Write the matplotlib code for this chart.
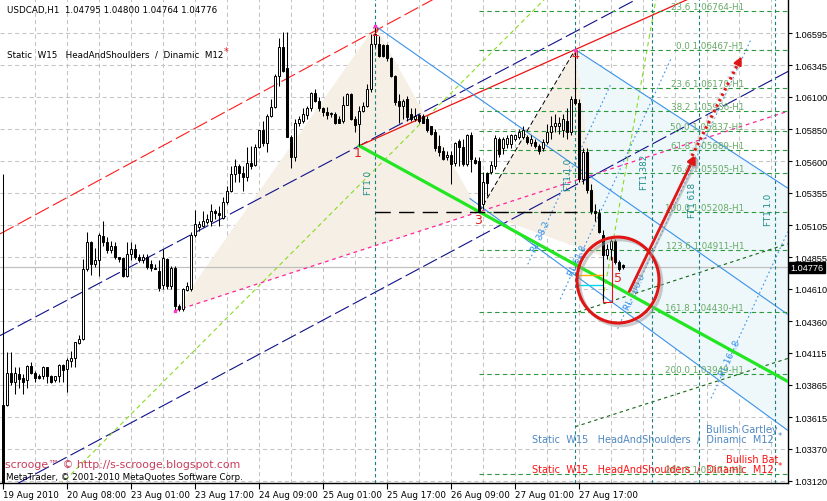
import matplotlib
matplotlib.use("Agg")
import matplotlib.pyplot as plt
import matplotlib.patheffects as pe
from matplotlib.patches import Polygon, Ellipse
import numpy as np

# USDCAD H1 bars, first bar 19 Aug 2010 16:00
opens = [1.0371, 1.0371, 1.0396, 1.0389, 1.0395, 1.0392, 1.0390, 1.0401, 1.0396, 1.0393,
         1.0393, 1.0400, 1.0393, 1.0390, 1.0393, 1.0402, 1.0399, 1.0405, 1.0407, 1.0419,
         1.0422, 1.0476, 1.0497, 1.0480, 1.0483, 1.0502, 1.0497, 1.0491, 1.0494, 1.0486,
         1.0485, 1.0471, 1.0488, 1.0492, 1.0486, 1.0483, 1.0486, 1.0480, 1.0477, 1.0475,
         1.0464, 1.0484, 1.0463, 1.0477, 1.0448, 1.0445, 1.0460, 1.0461, 1.0503, 1.0509,
         1.0510, 1.0513, 1.0514, 1.0521, 1.0520, 1.0516, 1.0528, 1.0537, 1.0550, 1.0556,
         1.0551, 1.0548, 1.0559, 1.0557, 1.0571, 1.0584, 1.0574, 1.0595, 1.0602, 1.0626,
         1.0649, 1.0632, 1.0579, 1.0563, 1.0590, 1.0591, 1.0596, 1.0601, 1.0613, 1.0607,
         1.0601, 1.0598, 1.0597, 1.0597, 1.0593, 1.0591, 1.0604, 1.0612, 1.0593, 1.0589,
         1.0599, 1.0603, 1.0616, 1.0651, 1.0651, 1.0650, 1.0650, 1.0640, 1.0626, 1.0607,
         1.0603, 1.0608, 1.0597, 1.0593, 1.0596, 1.0595, 1.0593, 1.0587, 1.0583, 1.0572,
         1.0568, 1.0563, 1.0565, 1.0559, 1.0576, 1.0571, 1.0558, 1.0580, 1.0561, 1.0560,
         1.0527, 1.0551, 1.0552, 1.0556, 1.0577, 1.0570, 1.0573, 1.0573, 1.0577, 1.0579,
         1.0579, 1.0579, 1.0574, 1.0575, 1.0572, 1.0570, 1.0575, 1.0583, 1.0587, 1.0587,
         1.0584, 1.0591, 1.0583, 1.0608, 1.0605, 1.0546, 1.0567, 1.0538, 1.0521, 1.0520,
         1.0503, 1.0487, 1.0492, 1.0498, 1.0482, 1.04795]
highs = [1.0550, 1.0412, 1.0412, 1.0400, 1.0400, 1.0395, 1.0402, 1.0404, 1.0397, 1.0395,
         1.0401, 1.0400, 1.0394, 1.0393, 1.0403, 1.0403, 1.0407, 1.0413, 1.0420, 1.0425,
         1.0484, 1.0505, 1.0498, 1.0493, 1.0504, 1.0514, 1.0501, 1.0498, 1.0497, 1.0486,
         1.0486, 1.0497, 1.0497, 1.0496, 1.0488, 1.0488, 1.0488, 1.0483, 1.0480, 1.0483,
         1.0492, 1.0485, 1.0479, 1.0479, 1.0449, 1.0462, 1.0466, 1.0505, 1.0522, 1.0514,
         1.0521, 1.0519, 1.0527, 1.0523, 1.0525, 1.0532, 1.0541, 1.0556, 1.0562, 1.0558,
         1.0556, 1.0571, 1.0572, 1.0573, 1.0584, 1.0591, 1.0597, 1.0608, 1.0628, 1.0656,
         1.0660, 1.0660, 1.0580, 1.0593, 1.0595, 1.0601, 1.0603, 1.0614, 1.0616, 1.0610,
         1.0602, 1.0602, 1.0598, 1.0598, 1.0595, 1.0611, 1.0613, 1.0613, 1.0595, 1.0603,
         1.0606, 1.0620, 1.0659, 1.0665, 1.0657, 1.0651, 1.0651, 1.0641, 1.0627, 1.0612,
         1.0608, 1.0611, 1.0601, 1.0601, 1.0597, 1.0597, 1.0595, 1.0587, 1.0585, 1.0580,
         1.0571, 1.0568, 1.0568, 1.0575, 1.0577, 1.0577, 1.0581, 1.0583, 1.0563, 1.0563,
         1.0552, 1.0552, 1.0560, 1.0580, 1.0579, 1.0579, 1.0580, 1.0581, 1.0581, 1.0585,
         1.0587, 1.0580, 1.0580, 1.0577, 1.0573, 1.0577, 1.0589, 1.0595, 1.0597, 1.0594,
         1.0597, 1.0601, 1.0611, 1.06467, 1.0608, 1.0570, 1.0570, 1.0542, 1.0527, 1.0523,
         1.0507, 1.0496, 1.0500, 1.0500, 1.0483, 1.04800]
lows = [1.0300, 1.0370, 1.0386, 1.0379, 1.0384, 1.0379, 1.0384, 1.0395, 1.0389, 1.0391,
        1.0391, 1.0388, 1.0388, 1.0389, 1.0389, 1.0389, 1.0381, 1.0400, 1.0400, 1.0418,
        1.0421, 1.0475, 1.0472, 1.0478, 1.0471, 1.0494, 1.0489, 1.0489, 1.0484, 1.0482,
        1.0470, 1.0470, 1.0483, 1.0484, 1.0482, 1.0481, 1.0476, 1.0475, 1.0476, 1.0459,
        1.0461, 1.0461, 1.0461, 1.0444, 1.0444, 1.0444, 1.0459, 1.0459, 1.0501, 1.0506,
        1.0509, 1.0511, 1.0510, 1.0515, 1.0510, 1.0515, 1.0527, 1.0536, 1.0544, 1.0544,
        1.0537, 1.0545, 1.0554, 1.0556, 1.0570, 1.0572, 1.0567, 1.0594, 1.0601, 1.0618,
        1.0629, 1.0579, 1.0555, 1.0560, 1.0587, 1.0590, 1.0593, 1.0599, 1.0606, 1.0599,
        1.0595, 1.0593, 1.0594, 1.0589, 1.0590, 1.0590, 1.0604, 1.0592, 1.0583, 1.0572,
        1.0598, 1.0602, 1.0614, 1.0649, 1.0641, 1.0641, 1.0638, 1.0625, 1.0604, 1.0590,
        1.0593, 1.0591, 1.0591, 1.0591, 1.0590, 1.0590, 1.0583, 1.0580, 1.0568, 1.0564,
        1.0561, 1.0561, 1.0542, 1.0556, 1.0556, 1.0556, 1.0556, 1.0552, 1.0558, 1.05208,
        1.0523, 1.0533, 1.0550, 1.0554, 1.0563, 1.0566, 1.0570, 1.0570, 1.0576, 1.0577,
        1.0577, 1.0573, 1.0572, 1.0570, 1.0566, 1.0568, 1.0573, 1.0577, 1.0583, 1.0581,
        1.0579, 1.0577, 1.0580, 1.0604, 1.0544, 1.0542, 1.0535, 1.0519, 1.0514, 1.0504,
        1.0452, 1.0484, 1.0483, 1.0480, 1.0475, 1.04764]
closes = [1.0302, 1.0396, 1.0389, 1.0396, 1.0391, 1.0389, 1.0401, 1.0396, 1.0392, 1.0392,
          1.0400, 1.0393, 1.0389, 1.0393, 1.0402, 1.0398, 1.0406, 1.0407, 1.0420, 1.0422,
          1.0476, 1.0497, 1.0480, 1.0483, 1.0503, 1.0497, 1.0491, 1.0494, 1.0486, 1.0484,
          1.0471, 1.0488, 1.0492, 1.0486, 1.0483, 1.0486, 1.0478, 1.0477, 1.0476, 1.0462,
          1.0485, 1.0463, 1.0477, 1.0448, 1.0445, 1.0461, 1.0463, 1.0503, 1.0511, 1.0511,
          1.0514, 1.0515, 1.0521, 1.0520, 1.0518, 1.0528, 1.0537, 1.0550, 1.0556, 1.0551,
          1.0548, 1.0559, 1.0556, 1.0571, 1.0584, 1.0574, 1.0595, 1.0602, 1.0626, 1.0649,
          1.0630, 1.0579, 1.0563, 1.0590, 1.0593, 1.0597, 1.0601, 1.0613, 1.0607, 1.0601,
          1.0598, 1.0596, 1.0597, 1.0590, 1.0590, 1.0604, 1.0612, 1.0593, 1.0588, 1.0599,
          1.0603, 1.0616, 1.0651, 1.0659, 1.0642, 1.0642, 1.0640, 1.0626, 1.0606, 1.0603,
          1.0607, 1.0594, 1.0593, 1.0595, 1.0591, 1.0590, 1.0584, 1.0581, 1.0570, 1.0567,
          1.0562, 1.0565, 1.0558, 1.0574, 1.0571, 1.0558, 1.0580, 1.0562, 1.0559, 1.0521,
          1.0544, 1.0543, 1.0557, 1.0578, 1.0566, 1.0577, 1.0578, 1.0580, 1.0580, 1.0583,
          1.0584, 1.0575, 1.0577, 1.0572, 1.0568, 1.0575, 1.0583, 1.0587, 1.0590, 1.0590,
          1.0593, 1.0583, 1.0608, 1.0605, 1.0546, 1.0567, 1.0538, 1.0521, 1.0520, 1.0505,
          1.0487, 1.0492, 1.0498, 1.0482, 1.0476, 1.04776]

tick_bars = [0, 16, 32, 48, 64, 80, 96, 112, 128, 144]
tick_labels = ["19 Aug 2010", "20 Aug 08:00", "23 Aug 01:00", "23 Aug 17:00", "24 Aug 09:00",
               "25 Aug 01:00", "25 Aug 17:00", "26 Aug 09:00", "27 Aug 01:00", "27 Aug 17:00"]
price_ticks = [1.06595, 1.06345, 1.06100, 1.05850, 1.05600, 1.05355, 1.05105, 1.04855,
               1.04610, 1.04360, 1.04115, 1.03865, 1.03615, 1.03370, 1.03120]

# pattern points (bar index)
bar_x, bar_1, bar_2, bar_3, bar_4, bar_5 = 43, 89, 93, 119, 143, 150
fib_ratios = [-23.6, 0.0, 23.6, 38.2, 50.0, 61.8, 76.4, 100.0, 123.6, 161.8, 200.0, 261.8]
ft_ratios = [0.0, 1.0, 1.382, 1.618, 2.0]
ft_names = ["FT1 0", "FT1 1.0", "FT1 382", "FT1 618", "FT1 1.0"]

# channel / trend objects as (bar, price) anchors
red_dash = [(0, 1.0505), (100, 1.0673)]
navy_a = [(0, 1.0426), (100, 1.0590)]
navy_b = [(0, 1.0304), (100, 1.0470)]
lime_1 = [(15, 1.0311), (135.4, 1.06859)]
lime_2 = [(149.9, 1.0453), (163.2, 1.06859)]
blue_b1 = [(93, 1.0665), (196.2, 1.0441)]
blue_b1l = [(116.7, 1.0531), (196.2, 1.0351)]
blue_b2 = [(143, 1.06467), (196.2, 1.0539)]
dgreen_1 = [(143.7, 1.0443), (196.2, 1.0496)]
dgreen_2 = [(143.0, 1.0354), (196.2, 1.0407)]
point_d = (150, 1.0486)
rl_names = ["RL 38.2", "RL 61.8", "RL 100.0", "RL 161.8"]
rl_points = [(134.4, 1.0502), (143.7, 1.0483), (157.9, 1.0459), (181.7, 1.0408)]
rl_spans = [(1.0480, 1.0620), (1.0453, 1.0639), (1.0430, 1.0655), (1.0376, 1.0507)]

W, H = 827, 502
fig = plt.figure(figsize=(W / 100, H / 100), dpi=100)
fig.patch.set_facecolor("white")
ax = fig.add_axes([0, 18 / H, 788 / W, 484 / H])
X0, X1 = -0.825, 196.2
Y0, Y1 = 1.03103, 1.06859
ax.set_xlim(X0, X1)
ax.set_ylim(Y0, Y1)

o = np.array(opens); h = np.array(highs); l = np.array(lows); c = np.array(closes)
idx = np.arange(len(c))


def line_at(pts, b):
    (b0, p0), (b1, p1) = pts
    return p0 + (p1 - p0) * (np.asarray(b) - b0) / (b1 - b0)


def draw_line(pts, start, end=X1, **kw):
    bb = np.array([start, end])
    ax.plot(bb, line_at(pts, bb), **kw)


# grid
for p in price_ticks:
    ax.axhline(p, color="#c4c4c4", lw=0.75, ls=(0, (4, 3)), zorder=0)
for b in range(8, 197, 8):
    ax.axvline(b - 0.1, color="#c4c4c4", lw=0.75, ls=(0, (4, 3)), zorder=0)

p_x, p_1, p_2 = l[bar_x], l[bar_1], h[bar_2]
p_3, p_4, p_5 = l[bar_3], h[bar_4], l[bar_5]

# pattern fills
ax.add_patch(Polygon([(bar_x, p_x), (bar_2, p_2), (bar_3, p_3)], closed=True,
                     fc="#f5efe5", ec="none", zorder=1))
ax.add_patch(Polygon([(bar_3, p_3), (bar_4, p_4), point_d], closed=True,
                     fc="#f5efe5", ec="none", zorder=1))
b_cut = 151.7
ax.add_patch(Polygon([(bar_4, p_4), (X1, line_at(blue_b2, X1)), (X1, line_at(blue_b1l, X1)),
                      (b_cut, line_at(blue_b1l, b_cut)), point_d], closed=True,
                     fc="#eef7fa", ec="none", zorder=1))

# bid line
ax.axhline(c[-1], color="#c0c0c0", lw=0.9, zorder=2)

# channels
draw_line(red_dash, X0, color="#ff1a1a", lw=0.8, ls=(0, (14, 4)), zorder=3)
draw_line(navy_a, X0, color="#10108a", lw=0.8, ls=(0, (14, 4)), zorder=3)
draw_line(navy_b, X0, color="#10108a", lw=0.8, ls=(0, (14, 4)), zorder=3)
draw_line(lime_1, X0, color="#88dd22", lw=0.8, ls=(0, (4, 3)), zorder=3)
draw_line(lime_2, lime_2[0][0], lime_2[1][0], color="#88dd22", lw=0.8, ls=(0, (4, 3)), zorder=3)

p1p4 = [(bar_1, p_1), (bar_4, p_4)]
draw_line(p1p4, bar_1, color="#ee1111", lw=0.9, zorder=3)
xp3 = [(bar_x, p_x), (bar_3, p_3)]
draw_line(xp3, bar_x, color="#ff2299", lw=0.9, ls=(0, (3, 3)), zorder=3)
draw_line(dgreen_1, dgreen_1[0][0], color="#116611", lw=0.8, ls=(0, (3, 3)), zorder=3)
draw_line(dgreen_2, dgreen_2[0][0], color="#116611", lw=0.8, ls=(0, (3, 3)), zorder=3)

# blue pattern lines
draw_line(blue_b1, bar_2, color="#3a92ea", lw=0.8, zorder=3)
draw_line(blue_b1l, blue_b1l[0][0], color="#3a92ea", lw=0.8, zorder=3)
draw_line(blue_b2, bar_4, color="#3a92ea", lw=0.8, zorder=3)
rl_slope = 0.0006736
for name, (rb, rp), (lo_p, hi_p) in zip(rl_names, rl_points, rl_spans):
    bl = rb + (lo_p - rp) / rl_slope
    bh = rb + (hi_p - rp) / rl_slope
    ax.plot([bl, bh], [lo_p, hi_p], color="#3a92ea", lw=0.8, ls=(0, (1.5, 2.5)), zorder=3)
    ax.text(rb, rp, name, color="#3a92ea", fontsize=6.3, rotation=65,
            ha="center", va="center", zorder=4)

# fibo levels
for r in fib_ratios:
    lv = p_4 - r / 100 * (p_4 - p_3)
    ax.plot([bar_3, X1], [lv, lv], color="#2a9a3c", lw=0.8, ls=(0, (4, 3)), zorder=3)
    ax.text(185.2, lv, f"{abs(r):.1f} {lv:.5f}-H1", color="#66aa66", fontsize=6.3,
            ha="right", va="bottom", zorder=4)

# time fibo
for r, name in zip(ft_ratios, ft_names):
    tb = bar_2 + r * (bar_4 - bar_2)
    ax.axvline(tb, color="#1a7f7f", lw=0.8, ls=(0, (3, 2.5)), zorder=3)
for r, name, yy in zip(ft_ratios, ft_names, [1.0544, 1.0550, 1.0552, 1.0530, 1.0523]):
    tb = bar_2 + r * (bar_4 - bar_2)
    ax.text(tb - 1.7, yy, name, color="#1a8a8a", fontsize=6.3, rotation=90,
            ha="center", va="center", zorder=4)

# green X-leg line and FT horizontal
draw_line([(bar_1, p_1), (bar_3, p_3)], bar_1, color="#22e622", lw=2.3, zorder=4)
ax.plot([bar_2, bar_4 + 0.5], [p_3, p_3], color="black", lw=1.0, ls=(0, (11, 6)), zorder=4)
ax.plot([bar_3, bar_4], [p_3, p_4], color="black", lw=0.7, ls=(0, (5, 3)), zorder=4)

# small markers near point 5
ax.plot([143.5, 150], [1.0472, 1.0472], color="#ffaa00", lw=1.0, zorder=4)
ax.plot([143.5, 150], [1.0464, 1.0464], color="#00d8e8", lw=1.0, zorder=4)
ax.plot([149.9, 149.9, 152.2, 152.2], [1.0486, 1.0451, 1.0451, 1.0486], color="#ee1111",
        lw=0.8, zorder=4)

# candles
ax.vlines(idx, l, h, color="black", lw=0.75, zorder=6)
up = c >= o
lo_b = np.minimum(o, c)
hgt = np.maximum(np.abs(c - o), 0.00003)
ax.bar(idx[up], hgt[up], bottom=lo_b[up], width=0.55, color="white", edgecolor="black",
       lw=0.7, zorder=7)
ax.bar(idx[~up], hgt[~up], bottom=lo_b[~up], width=0.55, color="black", edgecolor="black",
       lw=0.7, zorder=7)

# point labels
for name, b, p in [("1", bar_1 - 0.3, p_1 - 0.0005), ("2", bar_2, p_2 - 0.0004),
                   ("3", bar_3 - 0.3, p_3 - 0.0006), ("4", bar_4, p_4 - 0.0004),
                   ("5", bar_5 + 3.7, p_5 + 0.0018)]:
    ax.text(b, p, name, color="#e02020", fontsize=9, ha="center", va="center", zorder=8)
for b, p in [(bar_x, p_x), (bar_2, p_2), (bar_4, p_4)]:
    ax.plot(b, p, "s", color="#ff33cc", ms=2, zorder=8)

# circle and arrows
shadow = [pe.SimpleLineShadow(offset=(2, -2), shadow_color="#999999", alpha=0.5), pe.Normal()]
ell = Ellipse((153.7, 1.04678), width=20.5, height=0.00667, fill=False, ec="#e01515",
              lw=2.2, zorder=9)
ell.set_path_effects(shadow)
ax.add_patch(ell)
ax.annotate("", xy=(173.4, 1.05672), xytext=(156.2, 1.04570), zorder=9,
            arrowprops=dict(arrowstyle="-|>", color="#e01515", lw=2.0, mutation_scale=12,
                            path_effects=shadow))
ax.plot([172.2, 184.3], [1.05641, 1.06395], color="#e01515", lw=2.2, ls=(0, (0.8, 1.2)),
        zorder=9, path_effects=[pe.Stroke(linewidth=5, foreground="#d8d8d8"), pe.Normal()])
ax.annotate("", xy=(184.9, 1.06432), xytext=(183.7, 1.06355), zorder=9,
            arrowprops=dict(arrowstyle="-|>", color="#e01515", lw=1.5, mutation_scale=12))

# axes styling
for s in ["top", "left"]:
    ax.spines[s].set_visible(False)
ax.spines["right"].set_linewidth(1.0)
ax.spines["bottom"].set_linewidth(1.0)
ax.yaxis.tick_right()
ax.set_yticks(price_ticks)
ax.set_yticklabels([f"{p:.5f}" for p in price_ticks], family="Liberation Sans")
ax.set_xticks(tick_bars)
ax.set_xticklabels(tick_labels)
for lb in ax.get_xticklabels():
    lb.set_ha("left")
ax.tick_params(axis="y", length=3, width=0.8, labelsize=6.6, pad=1.5)
ax.tick_params(axis="x", length=4, width=0.8, labelsize=6.3, pad=1)
ax.text(1.003, c[-1], f"{c[-1]:.5f}", transform=ax.get_yaxis_transform(), color="white",
        fontsize=6.6, family="Liberation Sans", ha="left", va="center", zorder=10,
        bbox=dict(boxstyle="square,pad=0.15", fc="black", ec="black"))


def ftxt(x, y, s, **kw):
    fig.text(x / W, 1 - y / H, s, **kw)


ftxt(7, 11, "USDCAD,H1  1.04795 1.04800 1.04764 1.04776", fontsize=6.3, va="center")
ftxt(7, 55, "Static  W15   HeadAndShoulders  /  Dinamic  M12", fontsize=6.3, va="center")
ftxt(224, 52, "*", fontsize=7, color="#e02020", va="center")
ftxt(532, 440, "Static  W15   HeadAndShoulders  /  Dinamic  M12", fontsize=7,
     color="#4f88c2", va="center")
ftxt(778, 430, "Bullish Gartley", fontsize=7, color="#4f88c2", va="center", ha="right")
ftxt(778, 437, "*", fontsize=6, color="#4f88c2", va="center")
ftxt(532, 470, "Static  W15   HeadAndShoulders  /  Dinamic  M12", fontsize=7,
     color="#ff1010", va="center")
ftxt(778, 460, "Bullish Bat", fontsize=7, color="#ff1010", va="center", ha="right")
ftxt(778, 467, "*", fontsize=6, color="#ff1010", va="center")
ftxt(5, 465, "scrooge\u2122 \u00a9 http://s-scrooge.blogspot.com", fontsize=7.8,
     color="#c83c5a", va="center")
ftxt(6, 478, "MetaTrader, \u00a9 2001-2010 MetaQuotes Software Corp.", fontsize=6.3,
     va="center")

fig.savefig("out.png", dpi=100)
